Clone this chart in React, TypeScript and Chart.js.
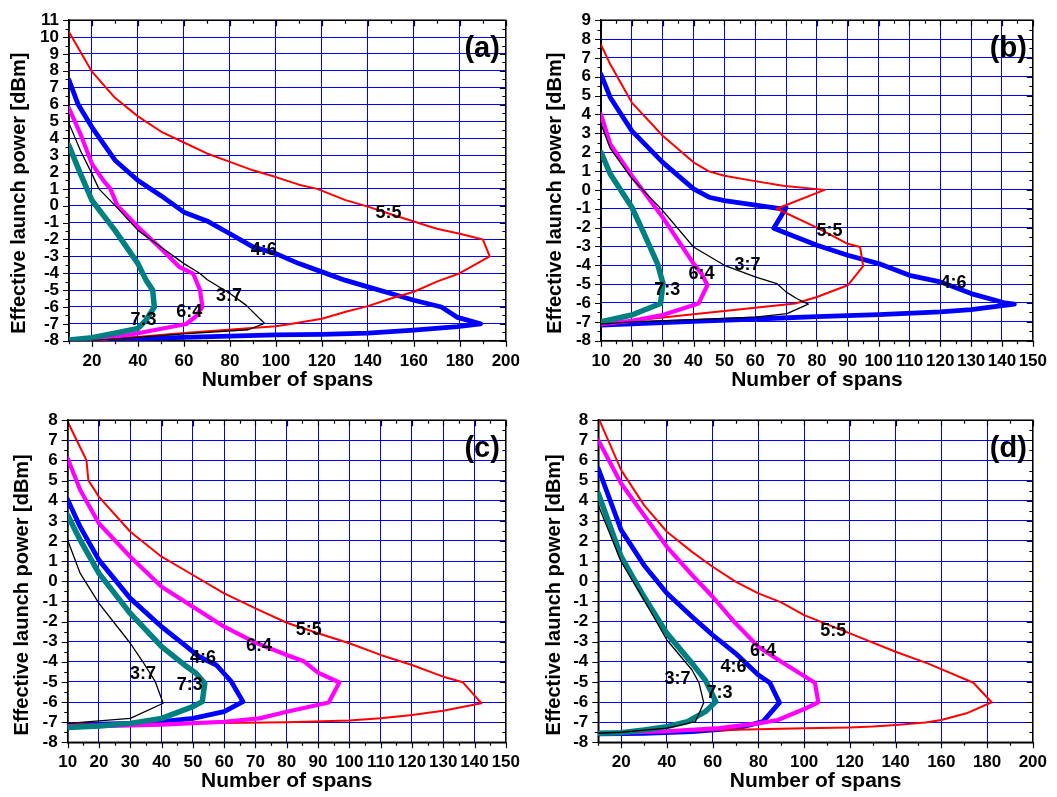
import React, { useEffect, useRef } from "react";
import { Chart, registerables } from "chart.js";

Chart.register(...registerables);

const FONT = "'Liberation Sans', Arial, Helvetica, sans-serif";
const RED = "#ff0000";
const BLUE = "#0000ff";
const MAGENTA = "#ff00ff";
const TEAL = "#008080";
const BLACK = "#000000";

const Y_TITLE = "Effective launch power [dBm]";
const X_TITLE = "Number of spans";
const RATIOS = ["5:5", "4:6", "3:7", "6:4", "7:3"];

// ---------- Panel (a) ----------
const A_X_TICKS = [20, 40, 60, 80, 100, 120, 140, 160, 180, 200];
const A_Y_TICKS = [-8, -7, -6, -5, -4, -3, -2, -1, 0, 1, 2, 3, 4, 5, 6, 7, 8, 9, 10, 11];
const A_55_X = [10, 20, 30, 40, 50, 60, 70, 80, 90, 100, 110, 118, 130, 140, 150, 160, 170, 180, 190, 193, 180, 170, 160, 150, 140, 130, 120, 107, 100, 60, 20];
const A_55_Y = [10.3, 7.95, 6.4, 5.3, 4.4, 3.75, 3.1, 2.6, 2.1, 1.7, 1.25, 1.0, 0.35, -0.05, -0.5, -0.93, -1.36, -1.66, -2.0, -3.0, -4.0, -4.5, -5.1, -5.5, -5.95, -6.3, -6.7, -7.0, -7.15, -7.55, -8.0];
const A_46_X = [10, 14, 20, 30, 40, 50, 60, 70, 80, 90, 100, 110, 120, 130, 140, 150, 160, 172, 179, 189, 179, 160, 140, 120, 100, 60, 30, 10];
const A_46_Y = [7.45, 6.0, 4.65, 2.7, 1.5, 0.6, -0.38, -0.9, -1.66, -2.44, -2.84, -3.43, -3.92, -4.41, -4.81, -5.2, -5.6, -6.0, -6.62, -7.0, -7.17, -7.37, -7.55, -7.62, -7.66, -7.8, -7.93, -8.0];
const A_37_X = [10, 15, 20, 23, 30, 40, 50, 60, 67, 70, 80, 87, 95, 88, 60, 20];
const A_37_Y = [4.88, 3.26, 1.89, 1.0, 0.02, -1.46, -2.44, -3.43, -4.02, -4.37, -5.2, -5.89, -6.97, -7.35, -7.6, -8.0];
const A_64_X = [10, 15, 20, 25, 28, 31, 40, 50, 58, 64, 67, 68, 65, 61, 40, 20];
const A_64_Y = [5.78, 4.25, 2.48, 1.49, 1.0, 0.02, -1.26, -2.54, -3.63, -4.02, -5.0, -6.0, -6.58, -7.01, -7.56, -8.0];
const A_73_X = [10, 15, 20, 30, 40, 43.5, 46.4, 47.1, 43.5, 40, 30, 20, 10];
const A_73_Y = [3.56, 1.89, 0.31, -1.46, -3.43, -4.41, -5.0, -6.0, -6.78, -7.27, -7.56, -7.82, -7.96];
const A_NOTE_X = [149, 94.7, 79.6, 62.3, 42.4];
const A_NOTE_Y = [-0.42, -2.64, -5.36, -6.29, -6.78];

// ---------- Panel (b) ----------
const B_X_TICKS = [10, 20, 30, 40, 50, 60, 70, 80, 90, 100, 110, 120, 130, 140, 150];
const B_Y_TICKS = [-8, -7, -6, -5, -4, -3, -2, -1, 0, 1, 2, 3, 4, 5, 6, 7, 8, 9];
const B_55_X = [10, 13, 20, 30, 40, 45, 50, 59, 69, 82.5, 67, 80, 90, 94, 95, 90, 80, 73, 40, 10];
const B_55_Y = [7.7, 6.66, 4.63, 2.87, 1.46, 0.98, 0.75, 0.49, 0.22, 0.0, -1.0, -2.0, -2.86, -3.03, -4.04, -5.06, -5.68, -6.03, -6.6, -7.12];
const B_46_X = [10, 13, 20, 30, 40, 45, 50, 59, 68, 70, 66, 80, 90, 100, 110, 120, 130, 141, 144, 130, 120, 100, 80, 60, 40, 20, 10];
const B_46_Y = [6.13, 4.9, 3.13, 1.46, 0.05, -0.39, -0.57, -0.78, -1.0, -0.95, -2.03, -2.94, -3.47, -3.91, -4.53, -4.88, -5.5, -6.0, -6.06, -6.35, -6.47, -6.62, -6.72, -6.85, -6.97, -7.1, -7.17];
const B_37_X = [10, 13, 20, 30, 40, 50, 60, 67, 70, 73.4, 77.2, 70.3, 60, 40, 20, 10];
const B_37_Y = [3.49, 2.2, 0.6, -1.1, -3.03, -4.0, -4.62, -4.97, -5.41, -5.76, -6.06, -6.56, -6.75, -6.88, -7.0, -7.12];
const B_64_X = [10, 13, 20, 30, 40, 42.6, 44.5, 41.6, 30, 20, 10];
const B_64_Y = [4.01, 2.43, 0.75, -1.45, -3.91, -4.44, -5.06, -6.03, -6.64, -6.94, -7.12];
const B_73_X = [10, 13, 20, 24, 28.3, 30.1, 29.3, 20, 10];
const B_73_Y = [1.99, 0.84, -0.92, -2.33, -3.91, -4.97, -6.03, -6.64, -7.0];
const B_NOTE_X = [84.1, 124.3, 57.5, 42.6, 31.5];
const B_NOTE_Y = [-2.2, -4.94, -4.0, -4.48, -5.29];

// ---------- Panel (c) ----------
const C_X_TICKS = [10, 20, 30, 40, 50, 60, 70, 80, 90, 100, 110, 120, 130, 140, 150];
const C_Y_TICKS = [-8, -7, -6, -5, -4, -3, -2, -1, 0, 1, 2, 3, 4, 5, 6, 7, 8];
const C_55_X = [10, 16, 16.6, 20, 30, 40, 50, 60, 70, 80, 90, 100, 110, 120, 130, 136.3, 140.3, 142.2, 130, 120, 110, 100, 80, 60, 30, 10];
const C_55_Y = [7.92, 6.01, 5.02, 4.19, 2.46, 1.22, 0.31, -0.6, -1.35, -2.06, -2.58, -3.08, -3.66, -4.16, -4.74, -5.02, -5.73, -6.06, -6.43, -6.64, -6.81, -6.92, -7.0, -7.04, -7.1, -7.12];
const C_46_X = [10, 14, 20, 30, 40, 46, 52, 57.5, 62.3, 66, 60, 50, 40, 30, 10];
const C_46_Y = [4.05, 2.7, 1.05, -0.85, -2.26, -3.0, -3.75, -4.16, -4.99, -5.98, -6.48, -6.81, -6.97, -7.06, -7.14];
const C_37_X = [10, 14, 20, 30, 34, 38, 40.5, 30, 20, 10];
const C_37_Y = [2.04, 0.39, -1.1, -3.08, -4.0, -4.99, -6.06, -6.81, -6.94, -7.06];
const C_64_X = [10, 14, 20, 30, 40, 50, 60, 70, 80, 85.6, 90, 96.8, 93.4, 80, 71.3, 60, 40, 20, 10];
const C_64_Y = [6.1, 4.53, 2.87, 1.22, -0.27, -1.27, -2.26, -3.05, -3.66, -3.99, -4.54, -5.03, -6.02, -6.48, -6.81, -6.98, -7.12, -7.2, -7.22];
const C_73_X = [10, 14, 20, 30, 40, 48, 51, 53.8, 53, 50, 40, 30, 20, 10];
const C_73_Y = [3.28, 2.04, 0.39, -1.6, -3.25, -4.24, -4.57, -5.07, -5.98, -6.23, -6.81, -7.06, -7.19, -7.26];
const C_NOTE_X = [87, 53.2, 34.1, 71.1, 49];
const C_NOTE_Y = [-2.43, -3.8, -4.61, -3.22, -5.16];

// ---------- Panel (d) ----------
const D_X_TICKS = [20, 40, 60, 80, 100, 120, 140, 160, 180, 200];
const D_Y_TICKS = [-8, -7, -6, -5, -4, -3, -2, -1, 0, 1, 2, 3, 4, 5, 6, 7, 8];
const D_55_X = [10.5, 20, 30, 40, 51, 60, 70, 80, 90, 100, 120, 140, 154, 174, 182, 171, 160, 153, 140, 130, 120, 100, 60, 10];
const D_55_Y = [8.0, 5.52, 3.78, 2.46, 1.46, 0.72, -0.02, -0.6, -1.05, -1.68, -2.59, -3.5, -4.08, -5.04, -6.01, -6.56, -6.89, -7.02, -7.14, -7.22, -7.26, -7.3, -7.4, -7.55];
const D_46_X = [10, 20, 30, 40, 51, 60, 70, 80, 85, 89.2, 82, 70.5, 51, 30, 10];
const D_46_Y = [5.6, 2.54, 0.8, -0.6, -1.76, -2.67, -3.58, -4.66, -5.04, -6.03, -6.97, -7.3, -7.47, -7.55, -7.58];
const D_37_X = [10, 20, 30, 40, 51, 54, 56.1, 52.5, 40, 20, 10];
const D_37_Y = [3.78, 0.97, -0.93, -2.92, -4.41, -5.04, -6.03, -6.97, -7.3, -7.5, -7.55];
const D_64_X = [10, 20, 30, 40, 51, 60, 70, 80, 90, 100, 104.7, 106.2, 99.8, 88.5, 80, 63, 40, 10];
const D_64_Y = [7.0, 4.86, 3.28, 1.71, 0.31, -0.77, -2.09, -3.25, -4.0, -4.71, -5.04, -6.01, -6.36, -6.89, -7.06, -7.3, -7.45, -7.55];
const D_73_X = [10, 20, 30, 40, 51, 56.8, 61.4, 56.8, 49, 40, 30, 20, 10];
const D_73_Y = [4.36, 1.22, -0.77, -2.59, -4.08, -4.91, -5.98, -6.48, -6.97, -7.22, -7.39, -7.52, -7.55];
const D_NOTE_X = [112.7, 69.1, 44.6, 82, 63];
const D_NOTE_Y = [-2.48, -4.25, -4.88, -3.45, -5.54];

type Series = { xs: number[]; ys: number[]; color: string; width: number };
type PanelDef = {
  tag: string;
  left: number; top: number; w: number; h: number;
  area: { l: number; r: number; t: number; b: number };
  xMin: number; xMax: number; xTicks: number[]; xMinor: number;
  yMin: number; yMax: number; yTicks: number[];
  series: Series[];
  noteX: number[]; noteY: number[];
  yTitleX: number; xTitlePad: number;
};

// draw order: first listed = on top
function seriesOf(s55: number[][], s46: number[][], s37: number[][], s64: number[][], s73: number[][]): Series[] {
  return [
    { xs: s37[0], ys: s37[1], color: BLACK, width: 1.3 },
    { xs: s73[0], ys: s73[1], color: TEAL, width: 5.5 },
    { xs: s64[0], ys: s64[1], color: MAGENTA, width: 4.2 },
    { xs: s55[0], ys: s55[1], color: RED, width: 2 },
    { xs: s46[0], ys: s46[1], color: BLUE, width: 4.8 },
  ];
}

const PANELS: PanelDef[] = [
  {
    tag: "(a)", left: 0, top: 0, w: 530, h: 400,
    area: { l: 69, r: 508.5, t: 19, b: 340.7 },
    xMin: 10, xMax: 200, xTicks: A_X_TICKS, xMinor: 10,
    yMin: -8, yMax: 11, yTicks: A_Y_TICKS,
    series: seriesOf([A_55_X, A_55_Y], [A_46_X, A_46_Y], [A_37_X, A_37_Y], [A_64_X, A_64_Y], [A_73_X, A_73_Y]),
    noteX: A_NOTE_X, noteY: A_NOTE_Y, yTitleX: 19.6, xTitlePad: 7,
  },
  {
    tag: "(b)", left: 530, top: 0, w: 527, h: 400,
    area: { l: 71, r: 510, t: 19, b: 340.7 },
    xMin: 10, xMax: 150, xTicks: B_X_TICKS, xMinor: 5,
    yMin: -8, yMax: 9, yTicks: B_Y_TICKS,
    series: seriesOf([B_55_X, B_55_Y], [B_46_X, B_46_Y], [B_37_X, B_37_Y], [B_64_X, B_64_Y], [B_73_X, B_73_Y]),
    noteX: B_NOTE_X, noteY: B_NOTE_Y, yTitleX: 25, xTitlePad: 7,
  },
  {
    tag: "(c)", left: 0, top: 400, w: 530, h: 397,
    area: { l: 67.7, r: 507, t: 20, b: 342.3 },
    xMin: 10, xMax: 150, xTicks: C_X_TICKS, xMinor: 5,
    yMin: -8, yMax: 8, yTicks: C_Y_TICKS,
    series: seriesOf([C_55_X, C_55_Y], [C_46_X, C_46_Y], [C_37_X, C_37_Y], [C_64_X, C_64_Y], [C_73_X, C_73_Y]),
    noteX: C_NOTE_X, noteY: C_NOTE_Y, yTitleX: 22.4, xTitlePad: 3.4,
  },
  {
    tag: "(d)", left: 530, top: 400, w: 527, h: 397,
    area: { l: 68.3, r: 508, t: 20, b: 342.3 },
    xMin: 10, xMax: 200, xTicks: D_X_TICKS, xMinor: 10,
    yMin: -8, yMax: 8, yTicks: D_Y_TICKS,
    series: seriesOf([D_55_X, D_55_Y], [D_46_X, D_46_Y], [D_37_X, D_37_Y], [D_64_X, D_64_Y], [D_73_X, D_73_Y]),
    noteX: D_NOTE_X, noteY: D_NOTE_Y, yTitleX: 24.8, xTitlePad: 3.4,
  },
];

function decoPlugin(p: PanelDef) {
  return {
    id: "deco",
    beforeDatasetsDraw(chart: any) {
      const ctx = chart.ctx;
      const { left, right, top, bottom } = chart.chartArea;
      ctx.save();
      ctx.strokeStyle = BLACK;
      ctx.lineWidth = 1.5;
      ctx.strokeRect(left, top, right - left, bottom - top);
      ctx.restore();
    },
    afterDraw(chart: any) {
      const ctx = chart.ctx;
      const { left, right, top, bottom } = chart.chartArea;
      const xs = chart.scales.x;
      const ys = chart.scales.y;
      ctx.save();
      ctx.strokeStyle = BLACK;
      ctx.lineWidth = 1.2;
      ctx.beginPath();
      const nx = Math.round((p.xMax - p.xMin) / p.xMinor);
      for (let i = 0; i <= nx; i++) {
        const v = p.xMin + i * p.xMinor;
        const major = p.xTicks.includes(v);
        const len = major ? 6 : 3.5;
        const px = Math.round(xs.getPixelForValue(v)) + 0.5;
        ctx.moveTo(px, bottom); ctx.lineTo(px, bottom + len);
        ctx.moveTo(px, top); ctx.lineTo(px, top + len);
      }
      const ny = Math.round((p.yMax - p.yMin) / 0.5);
      for (let i = 0; i <= ny; i++) {
        const v = p.yMin + i * 0.5;
        const major = Number.isInteger(v);
        const len = major ? 6 : 3.5;
        const py = Math.round(ys.getPixelForValue(v)) + 0.5;
        ctx.moveTo(left, py); ctx.lineTo(left - len, py);
        ctx.moveTo(right, py); ctx.lineTo(right - len, py);
      }
      ctx.stroke();

      // curve labels
      ctx.fillStyle = BLACK;
      ctx.font = `bold 18px ${FONT}`;
      ctx.textAlign = "center";
      ctx.textBaseline = "middle";
      RATIOS.forEach((t, i) => {
        ctx.fillText(t, xs.getPixelForValue(p.noteX[i]), ys.getPixelForValue(p.noteY[i]));
      });

      // panel tag
      ctx.font = `bold 29px ${FONT}`;
      ctx.textAlign = "right";
      ctx.fillText(p.tag, right - 6, top + 29);

      // y title
      ctx.font = `bold 20px ${FONT}`;
      ctx.textAlign = "center";
      ctx.translate(p.yTitleX, bottom - 147.5);
      ctx.rotate(-Math.PI / 2);
      ctx.fillText(Y_TITLE, 0, 0);
      ctx.restore();
    },
  };
}

function makeConfig(p: PanelDef): any {
  const tickFont = { family: FONT, size: 17, weight: "bold" as const };
  return {
    type: "line",
    data: {
      datasets: p.series.map((s) => ({
        data: s.xs.map((x, i) => ({ x, y: s.ys[i] })),
        borderColor: s.color,
        backgroundColor: s.color,
        borderWidth: s.width,
        pointRadius: 0,
        fill: false,
        tension: 0,
        borderJoinStyle: "round",
        borderCapStyle: "round",
      })),
    },
    options: {
      animation: false,
      responsive: false,
      devicePixelRatio: 1,
      events: [],
      layout: { padding: { left: 0, top: p.area.t, right: p.w - p.area.r, bottom: 0 } },
      plugins: { legend: { display: false }, tooltip: { enabled: false } },
      scales: {
        x: {
          type: "linear",
          min: p.xMin,
          max: p.xMax,
          afterBuildTicks: (s: any) => { s.ticks = p.xTicks.map((v) => ({ value: v })); },
          afterFit: (s: any) => { s.height = p.h - p.area.b; },
          grid: { color: BLUE, lineWidth: 1, drawTicks: false },
          border: { color: BLACK, width: 1.5 },
          ticks: { font: tickFont, color: BLACK, padding: 10, autoSkip: false, maxRotation: 0 },
          title: {
            display: true, text: X_TITLE, color: BLACK,
            font: { family: FONT, size: 21, weight: "bold" },
            padding: { top: 0, bottom: p.xTitlePad },
          },
        },
        y: {
          type: "linear",
          min: p.yMin,
          max: p.yMax,
          afterBuildTicks: (s: any) => { s.ticks = p.yTicks.map((v) => ({ value: v })); },
          afterFit: (s: any) => { s.width = p.area.l; },
          grid: { color: BLUE, lineWidth: 1, drawTicks: false },
          border: { color: BLACK, width: 1.5 },
          ticks: { font: tickFont, color: BLACK, padding: 10, autoSkip: false },
        },
      },
    },
    plugins: [decoPlugin(p)],
  };
}

function Panel({ p }: { p: PanelDef }) {
  const ref = useRef<HTMLCanvasElement>(null);
  useEffect(() => {
    const chart = new Chart(ref.current as HTMLCanvasElement, makeConfig(p));
    return () => chart.destroy();
  }, [p]);
  return (
    <canvas
      ref={ref}
      width={p.w}
      height={p.h}
      style={{ position: "absolute", left: p.left, top: p.top, width: p.w, height: p.h }}
    />
  );
}

export default function App() {
  return (
    <div style={{ position: "absolute", left: 0, top: 0, width: 1057, height: 797, background: "#ffffff", overflow: "hidden" }}>
      {PANELS.map((p) => (
        <Panel key={p.tag} p={p} />
      ))}
    </div>
  );
}
